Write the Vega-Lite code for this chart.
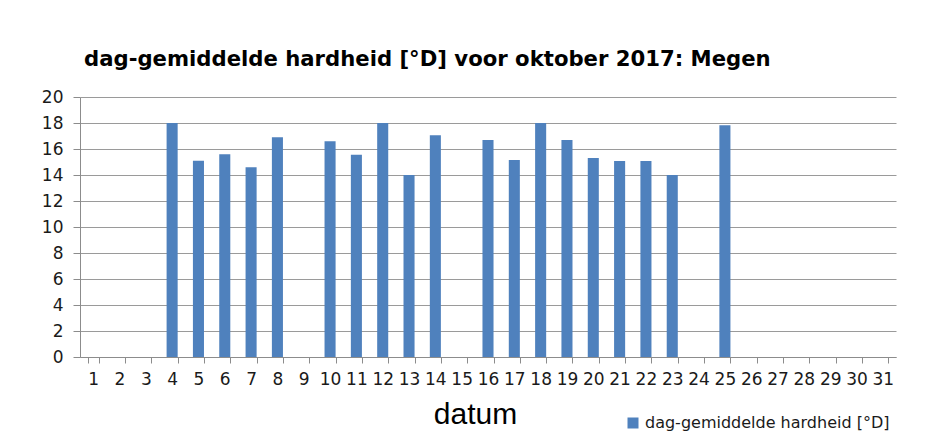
{
  "$schema": "https://vega.github.io/schema/vega-lite/v6.json",
  "width": 816,
  "height": 260,
  "autosize": {"type": "none"},
  "padding": {"left": 80, "top": 97, "right": 48, "bottom": 87},
  "background": "white",
  "title": {
    "text": "dag-gemiddelde hardheid [°D] voor oktober 2017: Megen",
    "anchor": "start",
    "frame": "group",
    "dx": 4,
    "offset": 18,
    "font": "DejaVu Sans",
    "fontSize": 21.2,
    "fontWeight": "bold",
    "color": "#000000"
  },
  "data": {
    "values": [
      {"dag": 4, "hardheid": 18.0},
      {"dag": 5, "hardheid": 15.1},
      {"dag": 6, "hardheid": 15.6},
      {"dag": 7, "hardheid": 14.6},
      {"dag": 8, "hardheid": 16.9},
      {"dag": 10, "hardheid": 16.6},
      {"dag": 11, "hardheid": 15.55},
      {"dag": 12, "hardheid": 18.0},
      {"dag": 13, "hardheid": 14.0},
      {"dag": 14, "hardheid": 17.05},
      {"dag": 16, "hardheid": 16.7},
      {"dag": 17, "hardheid": 15.15},
      {"dag": 18, "hardheid": 18.0},
      {"dag": 19, "hardheid": 16.7},
      {"dag": 20, "hardheid": 15.3},
      {"dag": 21, "hardheid": 15.07},
      {"dag": 22, "hardheid": 15.07},
      {"dag": 23, "hardheid": 14.0},
      {"dag": 25, "hardheid": 17.82}
    ]
  },
  "mark": {"type": "bar"},
  "encoding": {
    "x": {
      "field": "dag",
      "type": "ordinal",
      "scale": {
        "domain": [1,2,3,4,5,6,7,8,9,10,11,12,13,14,15,16,17,18,19,20,21,22,23,24,25,26,27,28,29,30,31],
        "paddingInner": 0.58,
        "paddingOuter": 0.29
      },
      "axis": {
        "title": "datum",
        "labelAngle": 0,
        "tickBand": "extent",
        "tickSize": 6,
        "tickColor": "#8c8c8c",
        "domainColor": "#8c8c8c",
        "labelFont": "DejaVu Sans",
        "labelFontSize": 17,
        "labelColor": "#1a1a1a",
        "labelPadding": 8,
        "titleFont": "Liberation Sans",
        "titleFontSize": 30,
        "titleFontWeight": "normal",
        "titleColor": "#000000",
        "titleX": 395,
        "titleY": 66,
        "titleBaseline": "alphabetic",
        "titleAnchor": "middle"
      }
    },
    "y": {
      "field": "hardheid",
      "type": "quantitative",
      "scale": {"domain": [0, 20], "nice": false},
      "axis": {
        "title": null,
        "values": [0,2,4,6,8,10,12,14,16,18,20],
        "tickSize": 7,
        "tickColor": "#8c8c8c",
        "domainColor": "#8c8c8c",
        "gridColor": "#9a9a9a",
        "labelFont": "DejaVu Sans",
        "labelFontSize": 17,
        "labelColor": "#1a1a1a",
        "labelPadding": 10
      }
    },
    "color": {
      "datum": "dag-gemiddelde hardheid [°D]",
      "type": "nominal",
      "scale": {"range": ["#4f81bd"]},
      "legend": {
        "title": null,
        "orient": "none",
        "legendX": 545,
        "legendY": 318,
        "symbolType": "square",
        "symbolSize": 121,
        "symbolStrokeWidth": 0,
        "labelFont": "DejaVu Sans",
        "labelFontSize": 16,
        "labelColor": "#1a1a1a",
        "labelOffset": 4,
        "labelLimit": 0
      }
    }
  },
  "config": {
    "view": {"stroke": null},
    "axis": {"gridOpacity": 1}
  }
}
